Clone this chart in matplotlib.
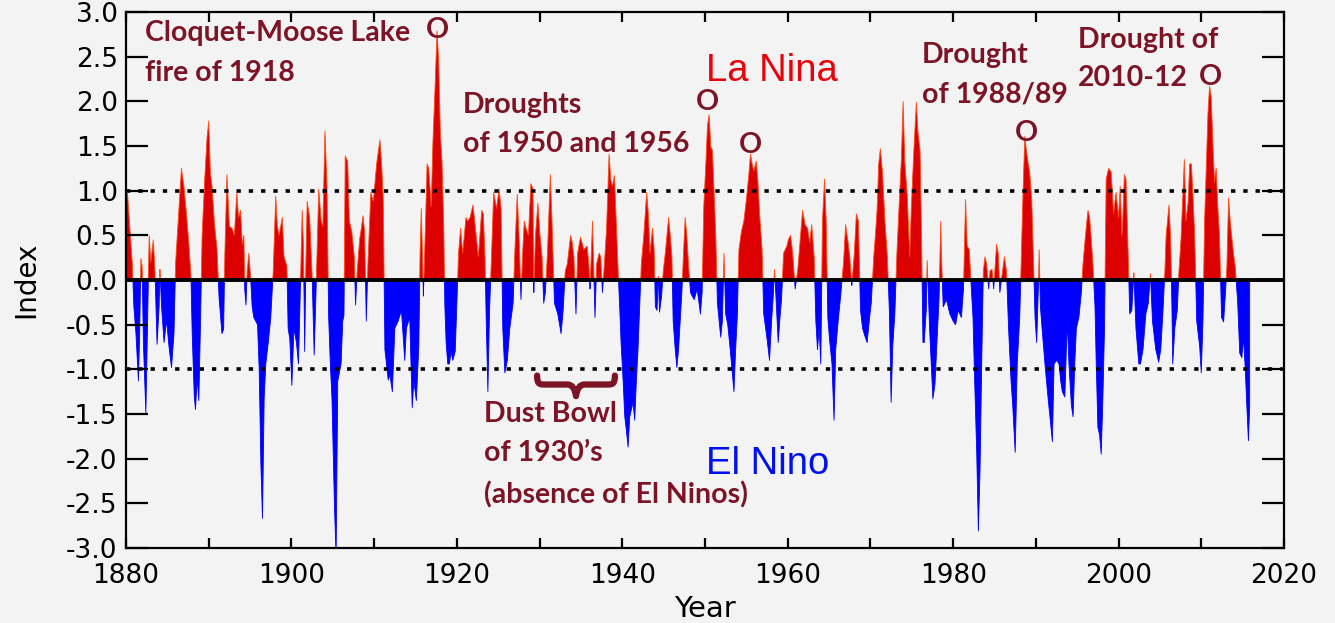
import numpy as np
import matplotlib
matplotlib.use("Agg")
import matplotlib.pyplot as plt
from matplotlib.path import Path
from matplotlib.patches import PathPatch
from matplotlib.ticker import MultipleLocator, FormatStrFormatter

plt.rcParams['axes.unicode_minus'] = False

# index, (year, value) pairs per period
yr_1880 = [1880.0, 1880.2, 1880.45, 1880.75, 1880.95, 1881.2, 1881.5, 1881.65, 1881.8, 1881.95,
           1882.1, 1882.4, 1882.6, 1882.8, 1883.0, 1883.3, 1883.5, 1883.75, 1884.0, 1884.1,
           1884.3, 1884.6, 1884.9, 1885.2, 1885.5, 1885.8, 1886.0, 1886.4, 1886.7, 1887.0,
           1887.3, 1887.6, 1887.85, 1888.0, 1888.25, 1888.4, 1888.6, 1888.8, 1889.0, 1889.2,
           1889.5, 1889.8]
ix_1880 = [1.0, 0.95, 0.6, 0.2, -0.3, -0.6, -1.13, -0.6, 0.24, 0.15,
           -0.7, -1.49, -0.5, 0.5, 0.2, 0.45, 0.1, -0.72, -0.3, 0.12,
           -0.3, -0.7, -0.45, -0.75, -0.98, -0.6, 0.2, 0.8, 1.25, 1.05,
           0.75, 0.4, 0.05, -0.6, -1.3, -1.45, -1.1, -1.35, -0.5, 0.5,
           1.1, 1.6]

yr_1890 = [1890.0, 1890.2, 1890.4, 1890.7, 1891.0, 1891.25, 1891.6, 1891.8, 1891.95, 1892.2,
           1892.5, 1892.8, 1893.1, 1893.4, 1893.6, 1893.85, 1894.05, 1894.25, 1894.35, 1894.5,
           1894.65, 1894.85, 1895.05, 1895.25, 1895.45, 1895.9, 1896.1, 1896.3, 1896.5, 1896.7,
           1896.9, 1897.2, 1897.5, 1897.8, 1898.1, 1898.3, 1898.5, 1898.9, 1899.1, 1899.45,
           1899.6, 1899.8]
ix_1890 = [1.78, 1.2, 1.05, 0.62, 0.35, -0.2, -0.6, -0.55, 0.3, 1.18,
           0.6, 0.58, 0.5, 0.98, 0.7, 0.78, 0.4, 0.5, -0.1, -0.28,
           0.1, 0.3, 0.05, -0.3, -0.42, -0.5, -1.0, -2.05, -2.67, -1.33,
           -0.94, -0.7, -0.42, 0.1, 0.94, 0.6, 0.5, 0.7, 0.26, 0.16,
           -0.54, -0.66]

yr_1900 = [1900.05, 1900.3, 1900.6, 1900.85, 1901.05, 1901.3, 1901.45, 1901.6, 1901.75, 1901.9,
           1902.2, 1902.5, 1902.75, 1902.95, 1903.3, 1903.6, 1903.8, 1904.05, 1904.3, 1904.5,
           1904.7, 1904.9, 1905.2, 1905.4, 1905.6, 1906.0, 1906.2, 1906.35, 1906.5, 1906.8,
           1907.0, 1907.3, 1907.6, 1907.75, 1907.95, 1908.25, 1908.45, 1908.65, 1908.85, 1909.05,
           1909.25, 1909.6, 1909.9]
ix_1900 = [-1.18, -0.54, -0.7, -0.94, -0.2, 0.78, 0.4, -0.8, 0.2, 0.88,
           0.7, 0.05, -0.84, -0.2, 1.02, 0.66, 0.6, 1.67, 1.05, -0.42,
           -0.94, -1.33, -2.53, -3.1, -1.13, -0.94, -0.46, -0.4, 1.39, 1.33,
           0.66, 0.54, 0.26, -0.28, 0.1, 0.46, 0.58, 0.72, 0.54, -0.46,
           0.2, 0.98, 0.88]

yr_1910 = [1910.3, 1910.7, 1910.9, 1911.1, 1911.3, 1911.7, 1911.9, 1912.2, 1912.5, 1912.9,
           1913.3, 1913.7, 1913.9, 1914.3, 1914.6, 1914.8, 1915.1, 1915.4, 1915.55, 1915.7,
           1915.85, 1915.95, 1916.2, 1916.4, 1916.6, 1916.9, 1917.1, 1917.4, 1917.6, 1917.8,
           1918.0, 1918.2, 1918.4, 1918.55, 1918.7, 1918.9, 1919.1, 1919.3, 1919.5, 1919.8]
ix_1910 = [1.3, 1.57, 1.3, 0.9, -0.78, -1.12, -1.06, -1.25, -0.54, -0.46,
           -0.34, -0.9, -0.54, -0.42, -1.43, -1.13, -1.35, -0.74, 0.3, 0.8,
           0.26, -0.18, 0.6, 1.3, 1.25, 0.82, 1.53, 2.25, 2.79, 2.45,
           1.65, 1.33, 0.66, -0.3, -0.7, -0.94, -0.94, -0.8, -0.9, -0.8]

yr_1920 = [1920.0, 1920.2, 1920.45, 1920.7, 1921.1, 1921.3, 1921.6, 1921.95, 1922.2, 1922.6,
           1923.0, 1923.2, 1923.4, 1923.55, 1923.75, 1923.95, 1924.2, 1924.45, 1924.8, 1925.1,
           1925.35, 1925.55, 1925.8, 1926.1, 1926.4, 1926.8, 1927.0, 1927.3, 1927.55, 1927.75,
           1927.95, 1928.15, 1928.35, 1928.65, 1928.95, 1929.2, 1929.3, 1929.5, 1929.8]
ix_1920 = [-0.26, 0.3, 0.58, 0.3, 0.7, 0.66, 0.7, 0.84, 0.62, 0.26,
           0.78, 0.74, 0.26, -0.46, -1.25, -0.34, 0.3, 0.98, 0.8, 1.02,
           0.8, -0.54, -1.04, -0.9, -0.54, -0.26, 0.3, 0.96, 0.42, -0.22,
           0.3, 0.66, 0.58, 0.5, 1.08, 1.02, -0.14, 0.5, 0.86]

yr_1930 = [1930.05, 1930.3, 1930.5, 1930.7, 1930.95, 1931.3, 1931.5, 1931.8, 1932.2, 1932.6,
           1932.85, 1933.1, 1933.35, 1933.75, 1933.95, 1934.15, 1934.4, 1934.6, 1934.95, 1935.35,
           1935.75, 1935.95, 1936.1, 1936.4, 1936.7, 1936.9, 1937.2, 1937.4, 1937.6, 1937.85,
           1938.1, 1938.4, 1938.6, 1938.8, 1939.05, 1939.3, 1939.5, 1939.7, 1939.85]
ix_1930 = [0.5, 0.26, -0.26, -0.14, 0.3, 1.18, 0.66, -0.26, -0.38, -0.6,
           -0.34, 0.1, 0.18, 0.5, 0.42, 0.26, -0.38, 0.3, 0.48, 0.34,
           0.38, 0.18, -0.1, 0.66, -0.42, 0.18, 0.3, 0.26, -0.14, 0.2,
           0.58, 1.41, 1.13, 1.05, 1.17, 0.58, 0.1, -0.34, -0.7]

yr_1940 = [1940.1, 1940.3, 1940.5, 1940.7, 1940.9, 1941.1, 1941.3, 1941.5, 1941.7, 1941.9,
           1942.1, 1942.3, 1942.6, 1942.95, 1943.15, 1943.35, 1943.65, 1943.85, 1944.0, 1944.2,
           1944.35, 1944.5, 1944.75, 1944.95, 1945.2, 1945.4, 1945.6, 1945.8, 1946.0, 1946.15,
           1946.4, 1946.6, 1946.8, 1947.0, 1947.2, 1947.4, 1947.6, 1947.8, 1948.0, 1948.25,
           1948.45, 1948.7, 1949.05, 1949.45, 1949.65, 1949.85]
ix_1940 = [-1.13, -1.53, -1.69, -1.87, -1.53, -1.45, -1.37, -1.57, -1.13, -0.78,
           -0.3, 0.18, 0.5, 0.98, 0.74, 0.3, 0.58, 0.34, -0.3, -0.34,
           0.04, -0.36, -0.18, 0.1, 0.3, 0.5, 0.7, 0.5, 0.26, -0.46,
           -0.78, -0.98, -0.78, -0.46, -0.14, 0.3, 0.7, 0.5, 0.18, -0.14,
           -0.18, -0.22, -0.1, -0.38, -0.14, 0.82]

yr_1950 = [1950.1, 1950.3, 1950.5, 1950.7, 1950.9, 1951.1, 1951.3, 1951.5, 1951.9, 1952.1,
           1952.3, 1952.5, 1952.75, 1953.05, 1953.5, 1953.7, 1953.9, 1954.1, 1954.4, 1954.7,
           1955.0, 1955.3, 1955.5, 1955.7, 1955.9, 1956.2, 1956.4, 1956.6, 1956.9, 1957.1,
           1957.5, 1957.8, 1958.05, 1958.25, 1958.4, 1958.55, 1958.85, 1959.1, 1959.25, 1959.5,
           1959.9]
ix_1950 = [1.3, 1.73, 1.85, 1.49, 1.45, 0.98, 0.5, -0.26, -0.64, -0.46,
           0.3, -0.38, -0.5, -0.78, -1.25, -0.78, -0.42, 0.34, 0.54, 0.66,
           0.9, 1.18, 1.41, 1.3, 1.22, 1.33, 1.1, 0.74, 0.34, -0.38,
           -0.66, -0.9, -0.46, -0.18, 0.12, -0.14, -0.7, -0.38, -0.22, 0.3,
           0.38]

yr_1960 = [1960.1, 1960.35, 1960.6, 1960.9, 1961.2, 1961.8, 1962.1, 1962.4, 1962.65, 1962.9,
           1963.2, 1963.4, 1963.6, 1963.8, 1964.0, 1964.2, 1964.45, 1964.65, 1964.85, 1965.05,
           1965.35, 1965.6, 1965.8, 1966.1, 1966.4, 1966.75, 1967.0, 1967.3, 1967.5, 1967.75,
           1968.05, 1968.3, 1968.55, 1968.8, 1969.05, 1969.3, 1969.6, 1969.9]
ix_1960 = [0.46, 0.5, 0.3, -0.1, 0.1, 0.78, 0.62, 0.58, 0.42, 0.62,
           0.26, -0.46, -0.78, -0.54, -0.94, 0.66, 1.13, 0.66, -0.42, -0.66,
           -0.94, -1.57, -0.78, -0.46, -0.18, 0.2, 0.62, 0.42, 0.26, -0.06,
           0.3, 0.74, 0.66, -0.34, -0.54, -0.62, -0.7, -0.42]

yr_1970 = [1970.1, 1970.4, 1970.6, 1970.8, 1971.0, 1971.2, 1971.45, 1971.75, 1972.05, 1972.3,
           1972.5, 1972.7, 1972.95, 1973.2, 1973.5, 1973.75, 1973.95, 1974.15, 1974.45, 1974.75,
           1974.95, 1975.25, 1975.55, 1975.75, 1976.0, 1976.15, 1976.35, 1976.5, 1976.75, 1976.85,
           1977.0, 1977.15, 1977.35, 1977.55, 1977.8, 1978.0, 1978.3, 1978.5, 1978.65, 1978.8,
           1979.2, 1979.6]
ix_1970 = [-0.26, 0.26, 0.5, 0.78, 1.3, 1.47, 1.21, 0.66, 0.26, -0.38,
           -1.37, -0.74, -0.38, 0.3, 0.9, 1.37, 2.0, 1.33, 0.94, 0.26,
           0.82, 1.45, 1.99, 1.65, 1.45, 0.66, -0.7, -0.7, -0.34, 0.22,
           -0.14, -0.54, -0.94, -1.33, -1.17, -0.78, -0.2, 0.66, 0.1, -0.3,
           -0.22, -0.38]

yr_1980 = [1980.0, 1980.3, 1980.6, 1981.0, 1981.25, 1981.5, 1981.7, 1981.95, 1982.2, 1982.4,
           1982.6, 1982.85, 1983.05, 1983.25, 1983.45, 1983.65, 1983.85, 1984.05, 1984.3, 1984.45,
           1984.7, 1984.9, 1985.25, 1985.45, 1985.65, 1985.9, 1986.2, 1986.45, 1986.7, 1987.0,
           1987.2, 1987.5, 1987.75, 1988.05, 1988.3, 1988.47, 1988.67, 1988.85, 1989.08, 1989.25,
           1989.5, 1989.7, 1989.9]
ix_1980 = [-0.46, -0.5, -0.34, -0.42, -0.1, 0.9, 0.38, 0.34, -0.1, -0.42,
           -1.13, -1.93, -2.81, -2.13, -0.94, 0.1, 0.26, 0.18, -0.1, 0.1,
           0.12, -0.1, 0.4, 0.3, -0.14, 0.05, 0.26, 0.1, -0.54, -1.13,
           -1.4, -1.93, -0.94, -0.42, 0.46, 1.05, 1.61, 1.45, 1.3, 1.21,
           0.9, 0.26, -0.42]

yr_1990 = [1990.1, 1990.3, 1990.4, 1990.55, 1990.75, 1991.1, 1991.4, 1991.7, 1992.0, 1992.2,
           1992.5, 1992.8, 1993.0, 1993.2, 1993.5, 1993.8, 1994.0, 1994.3, 1994.5, 1994.7,
           1994.9, 1995.2, 1995.5, 1995.7, 1996.0, 1996.3, 1996.5, 1996.7, 1996.9, 1997.15,
           1997.3, 1997.5, 1997.7, 1997.9, 1998.1, 1998.3, 1998.5, 1998.8, 1999.1, 1999.4,
           1999.7]
ix_1990 = [-0.7, -0.1, 0.34, -0.3, -0.54, -0.94, -1.25, -1.53, -1.81, -0.94,
           -0.9, -0.94, -1.13, -1.25, -1.31, -0.46, -0.94, -1.41, -1.53, -0.94,
           -0.54, -0.42, -0.14, 0.18, 0.5, 0.78, 0.7, 0.46, 0.18, -0.3,
           -0.94, -1.65, -1.73, -1.95, -1.33, -0.54, 1.13, 1.25, 1.21, 0.74,
           0.98]

yr_2000 = [2000.0, 2000.2, 2000.4, 2000.5, 2000.7, 2000.9, 2001.1, 2001.35, 2001.6, 2001.85,
           2002.1, 2002.45, 2002.65, 2002.95, 2003.3, 2003.6, 2003.85, 2004.1, 2004.5, 2004.85,
           2005.1, 2005.35, 2005.6, 2005.75, 2006.1, 2006.3, 2006.45, 2006.55, 2006.8, 2007.1,
           2007.3, 2007.55, 2007.75, 2007.95, 2008.15, 2008.4, 2008.6, 2008.8, 2009.0, 2009.2,
           2009.45, 2009.8]
ix_2000 = [0.7, 1.05, 0.5, 0.66, 1.18, 1.13, 0.5, -0.38, -0.34, 0.08,
           -0.54, -0.94, -0.94, -0.78, -0.38, -0.26, 0.07, -0.46, -0.78, -0.92,
           -0.78, -0.38, 0.1, 0.5, 0.84, 0.46, -0.3, -0.94, -0.54, -0.34,
           0.1, 0.46, 0.9, 1.35, 0.66, 0.86, 1.3, 1.3, 0.94, 0.5,
           -0.46, -0.74]

yr_2010 = [2010.0, 2010.2, 2010.4, 2010.6, 2010.8, 2011.0, 2011.2, 2011.4, 2011.6, 2011.8,
           2012.0, 2012.2, 2012.45, 2012.7, 2012.95, 2013.1, 2013.3, 2013.5, 2013.7, 2013.9,
           2014.1, 2014.4, 2014.65, 2014.9, 2015.1, 2015.3, 2015.5, 2015.7, 2015.85]
ix_2010 = [-1.04, -0.46, 0.66, 1.25, 1.85, 2.17, 2.05, 1.53, 1.1, 1.25,
           0.82, 0.5, -0.42, -0.47, -0.1, 0.16, 0.92, 0.65, 0.47, 0.29,
           0.16, -0.25, -0.82, -0.87, -0.65, -0.96, -1.4, -1.8, -1.4]

years = np.array(yr_1880 + yr_1890 + yr_1900 + yr_1910 + yr_1920 + yr_1930 + yr_1940 +
                 yr_1950 + yr_1960 + yr_1970 + yr_1980 + yr_1990 + yr_2000 + yr_2010)
index = np.array(ix_1880 + ix_1890 + ix_1900 + ix_1910 + ix_1920 + ix_1930 + ix_1940 +
                 ix_1950 + ix_1960 + ix_1970 + ix_1980 + ix_1990 + ix_2000 + ix_2010)

note_col = '#7d1426'
bg = '#f3f3f3'

fig = plt.figure(figsize=(13.35, 6.23), dpi=100, facecolor=bg)
ax = fig.add_axes([0.0944, 0.1204, 0.8674, 0.8603], facecolor=bg)

ax.fill_between(years, index, 0, where=index >= 0, interpolate=True,
                facecolor='#dc0000', edgecolor='#ff4a1a', linewidth=0.6)
ax.fill_between(years, index, 0, where=index <= 0, interpolate=True,
                facecolor='#0000ff', edgecolor='#0000ff', linewidth=0.6)

ax.axhline(0, color='black', lw=2.8)
ax.axhline(1, color='black', lw=2.6, ls=(0, (1.2, 2.2)))
ax.axhline(-1, color='black', lw=2.6, ls=(0, (1.2, 2.2)))

ax.set_xlim(1880, 2020)
ax.set_ylim(-3, 3)
ax.xaxis.set_major_locator(MultipleLocator(20))
ax.xaxis.set_minor_locator(MultipleLocator(10))
ax.yaxis.set_major_locator(MultipleLocator(0.5))
ax.yaxis.set_major_formatter(FormatStrFormatter('%.1f'))
ax.tick_params(axis='y', which='major', direction='in', length=16, width=1.6,
               left=True, right=True, labelsize=19, pad=6)
ax.tick_params(axis='x', which='both', direction='in', length=7, width=1.6,
               top=True, bottom=True, labelsize=19, pad=11)
for lab in ax.get_xticklabels() + ax.get_yticklabels():
    lab.set_fontfamily('DejaVu Sans')
for s in ax.spines.values():
    s.set_linewidth(1.6)

ax.set_xlabel('Year', fontsize=21, family='DejaVu Sans', labelpad=4)
ax.set_ylabel('Index', fontsize=20, family='DejaVu Sans', labelpad=19)

# annotations
kw = dict(color=note_col, fontsize=20.5, family='Lato', fontweight='bold', va='center')
ax.text(1882.3, 2.76, 'Cloquet-Moose Lake', **kw)
ax.text(1882.3, 2.32, 'fire of 1918', **kw)
ax.text(1920.75, 1.96, 'Droughts', **kw)
ax.text(1920.75, 1.52, 'of 1950 and 1956', **kw)
ax.text(1976.25, 2.52, 'Drought', **kw)
ax.text(1976.25, 2.08, 'of 1988/89', **kw)
ax.text(1995.1, 2.69, 'Drought of', **kw)
ax.text(1995.1, 2.26, '2010-12', **kw)
ax.text(1923.3, -1.50, 'Dust Bowl', **kw)
ax.text(1923.3, -1.94, 'of 1930\u2019s', **kw)
ax.text(1923.3, -2.40, '(absence of El Ninos)', **kw)

okw = dict(color=note_col, fontsize=20.5, family='Lato', fontweight='bold', ha='center', va='center')
for ox, oy in [(1917.6, 2.80), (1950.25, 1.99), (1955.45, 1.51), (1988.8, 1.65), (2011.1, 2.27)]:
    ax.text(ox, oy, 'O', **okw)

ax.text(1950.1, 2.34, 'La Nina', color='#e8000b', fontsize=27.5, family='Liberation Sans', va='center')
ax.text(1950.1, -2.06, 'El Nino', color='#0010f0', fontsize=27.5, family='Liberation Sans', va='center')

# curly brace over the dust bowl years
x0, x1, ytop, ybot = 1929.7, 1939.1, -1.07, -1.30
xm = (x0 + x1) / 2
ymid = -1.17
verts = [(x0, ytop), (x0, ymid), (x0 + 0.3, ymid), (x0 + 1.0, ymid),
         (xm - 1.0, ymid), (xm - 0.2, ymid), (xm, ybot),
         (xm + 0.2, ymid), (xm + 1.0, ymid), (x1 - 1.0, ymid),
         (x1 - 0.3, ymid), (x1, ymid), (x1, ytop)]
codes = [Path.MOVETO, Path.CURVE4, Path.CURVE4, Path.CURVE4,
         Path.LINETO, Path.CURVE3, Path.CURVE3,
         Path.CURVE3, Path.CURVE3, Path.LINETO,
         Path.CURVE4, Path.CURVE4, Path.CURVE4]
ax.add_patch(PathPatch(Path(verts, codes), fill=False, edgecolor=note_col, lw=4.5,
                       capstyle='round', joinstyle='round'))

fig.savefig('out.png', dpi=100, facecolor=bg)
